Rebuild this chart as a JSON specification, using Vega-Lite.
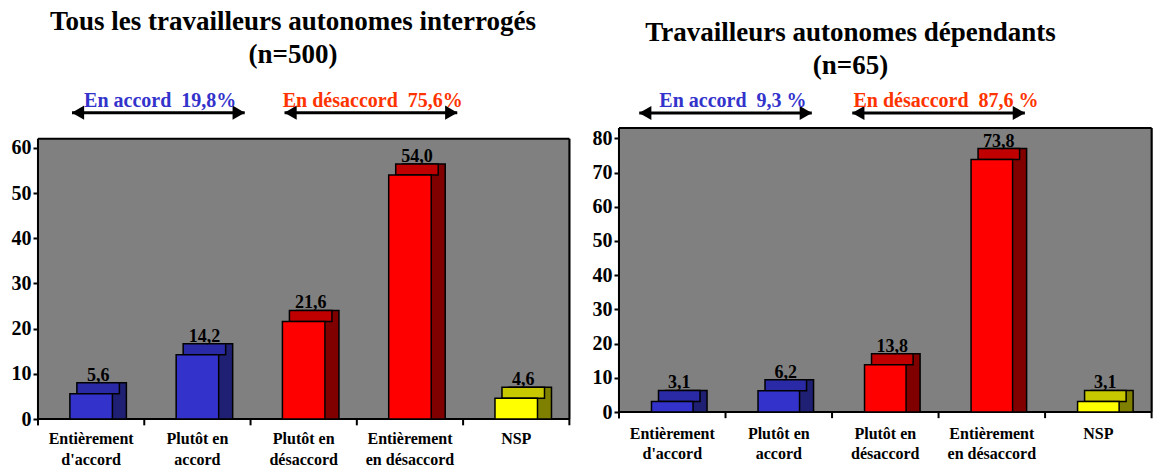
{
  "$schema": "https://vega.github.io/schema/vega-lite/v6.json",
  "background": "white",
  "padding": {"left": 11, "top": 8, "right": 0, "bottom": 0},
  "spacing": 12,
  "config": {
    "view": {"stroke": null},
    "font": "Liberation Serif",
    "title": {"font": "Liberation Serif", "fontSize": 27, "fontWeight": "bold", "color": "black", "lineHeight": 33, "anchor": "middle"},
    "axis": {"labelFont": "Liberation Serif", "labelFontWeight": "bold", "labelColor": "black", "grid": false, "tickColor": "black", "tickWidth": 2, "domain": false},
    "axisY": {"labelFontSize": 20, "tickSize": 5, "labelPadding": 2},
    "axisX": {"labelFontSize": 16, "labelAngle": 0, "ticks": false}
  },
  "datasets": {
    "all": [
      {"cat": "Entièrement d'accord", "value": 5.6, "label": "5,6", "grp": "accord"},
      {"cat": "Plutôt en accord", "value": 14.2, "label": "14,2", "grp": "accord"},
      {"cat": "Plutôt en désaccord", "value": 21.6, "label": "21,6", "grp": "desaccord"},
      {"cat": "Entièrement en désaccord", "value": 54.0, "label": "54,0", "grp": "desaccord"},
      {"cat": "NSP", "value": 4.6, "label": "4,6", "grp": "nsp"}
    ],
    "dep": [
      {"cat": "Entièrement d'accord", "value": 3.1, "label": "3,1", "grp": "accord"},
      {"cat": "Plutôt en accord", "value": 6.2, "label": "6,2", "grp": "accord"},
      {"cat": "Plutôt en désaccord", "value": 13.8, "label": "13,8", "grp": "desaccord"},
      {"cat": "Entièrement en désaccord", "value": 73.8, "label": "73,8", "grp": "desaccord"},
      {"cat": "NSP", "value": 3.1, "label": "3,1", "grp": "nsp"}
    ],
    "annAll": [
      {"label": "En accord\u00a0 19,8%", "from": "Entièrement d'accord", "to": "Plutôt en accord", "grp": "accord"},
      {"label": "En désaccord\u00a0 75,6%", "from": "Plutôt en désaccord", "to": "Entièrement en désaccord", "grp": "desaccord"}
    ],
    "annDep": [
      {"label": "En accord\u00a0 9,3 %", "from": "Entièrement d'accord", "to": "Plutôt en accord", "grp": "accord"},
      {"label": "En désaccord\u00a0 87,6 %", "from": "Plutôt en désaccord", "to": "Entièrement en désaccord", "grp": "desaccord"}
    ]
  },
  "hconcat": [
    {
      "width": 542,
      "height": 333,
      "title": {"text": ["Tous les travailleurs autonomes interrogés", "(n=500)"], "offset": 17, "dx": -16},
      "resolve": {"scale": {"color": "independent"}},
      "layer": [
        {
          "data": {"name": "all"},
          "mark": {"type": "bar", "width": {"band": 1.02}, "fill": "#808080", "stroke": null},
          "encoding": {
            "x": {"field": "cat", "type": "nominal", "scale": {"domain": ["Entièrement d'accord", "Plutôt en accord", "Plutôt en désaccord", "Entièrement en désaccord", "NSP"], "paddingInner": 0, "paddingOuter": 0.05, "align": 0},
              "axis": {"title": null, "labelPadding": 11, "labelLineHeight": 21,
                "labelExpr": "indexof(datum.value, 'Entièrement') == 0 ? ['Entièrement', substring(datum.value, 12)] : (indexof(datum.value, 'Plutôt en') == 0 ? ['Plutôt en', substring(datum.value, 10)] : datum.value)"}},
            "y": {"datum": 0, "type": "quantitative", "scale": {"domain": [0, 73.7], "nice": false}, "axis": {"values": [0, 10, 20, 30, 40, 50, 60], "title": null}},
            "y2": {"datum": 62}
          }
        },
        {
          "data": {"name": "all"},
          "mark": {"type": "rule", "strokeWidth": 2, "color": "black"},
          "encoding": {
            "x": {"field": "cat", "type": "nominal", "bandPosition": 0, "axis": {"title": null}},
            "y": {"datum": 0, "type": "quantitative", "axis": {"title": null}},
            "y2": {"datum": -1.4}
          }
        },
        {
          "data": {"values": [{"c": "Entièrement d'accord"}]},
          "mark": {"type": "rule", "strokeWidth": 2, "color": "black"},
          "encoding": {
            "x": {"field": "c", "type": "nominal", "bandPosition": 0, "axis": {"title": null}},
            "y": {"datum": -1.4, "type": "quantitative", "axis": {"title": null}},
            "y2": {"datum": 62}
          }
        },
        {
          "data": {"values": [{"c": "NSP"}]},
          "mark": {"type": "rule", "strokeWidth": 2, "color": "black"},
          "encoding": {
            "x": {"field": "c", "type": "nominal", "bandPosition": 1, "axis": {"title": null}},
            "y": {"datum": -1.4, "type": "quantitative", "axis": {"title": null}},
            "y2": {"datum": 62}
          }
        },
        {
          "data": {"values": [{"a": "Entièrement d'accord", "b": "NSP", "v": 0}, {"a": "Entièrement d'accord", "b": "NSP", "v": 62}]},
          "mark": {"type": "rule", "strokeWidth": 2, "color": "black"},
          "encoding": {
            "x": {"field": "a", "type": "nominal", "bandPosition": 0, "axis": {"title": null}},
            "x2": {"field": "b", "bandPosition": 1},
            "y": {"field": "v", "type": "quantitative", "axis": {"title": null}}
          }
        },
        {
          "data": {"name": "all"},
          "mark": {"type": "bar", "width": {"band": 0.4}, "xOffset": 14, "yOffset": -11, "y2Offset": 0, "stroke": "black", "strokeWidth": 1.5},
          "encoding": {
            "x": {"field": "cat", "type": "nominal", "axis": {"title": null}},
            "y": {"field": "value", "type": "quantitative", "axis": {"title": null}},
            "y2": {"datum": 0},
            "color": {"field": "grp", "type": "nominal", "scale": {"domain": ["accord", "desaccord", "nsp"], "range": ["#1f1f73", "#800000", "#808000"]}, "legend": null}
          }
        },
        {
          "data": {"name": "all"},
          "mark": {"type": "bar", "width": {"band": 0.4}, "xOffset": 7, "yOffset": -11, "y2Offset": 0, "stroke": "black", "strokeWidth": 1.5},
          "encoding": {
            "x": {"field": "cat", "type": "nominal", "axis": {"title": null}},
            "y": {"field": "value", "type": "quantitative", "axis": {"title": null}},
            "y2": {"field": "value"},
            "color": {"field": "grp", "type": "nominal", "scale": {"domain": ["accord", "desaccord", "nsp"], "range": ["#2a2aa6", "#c00000", "#c8c800"]}, "legend": null}
          }
        },
        {
          "data": {"name": "all"},
          "mark": {"type": "bar", "width": {"band": 0.4}, "stroke": "black", "strokeWidth": 1.5},
          "encoding": {
            "x": {"field": "cat", "type": "nominal", "axis": {"title": null}},
            "y": {"field": "value", "type": "quantitative", "axis": {"title": null}},
            "color": {"field": "grp", "type": "nominal", "scale": {"domain": ["accord", "desaccord", "nsp"], "range": ["#3333cc", "#ff0000", "#ffff00"]}, "legend": null}
          }
        },
        {
          "data": {"name": "all"},
          "mark": {"type": "text", "xOffset": 7, "dy": -9, "baseline": "bottom", "font": "Liberation Serif", "fontWeight": "bold", "fontSize": 18, "color": "black"},
          "encoding": {
            "x": {"field": "cat", "type": "nominal", "axis": {"title": null}},
            "y": {"field": "value", "type": "quantitative", "axis": {"title": null}},
            "text": {"field": "label"}
          }
        },
        {
          "data": {"name": "annAll"},
          "mark": {"type": "rule", "strokeWidth": 3, "color": "black"},
          "encoding": {
            "x": {"field": "from", "type": "nominal", "bandPosition": 0.32, "axis": {"title": null}},
            "x2": {"field": "to", "bandPosition": 0.945},
            "y": {"datum": 67.8, "type": "quantitative", "axis": {"title": null}}
          }
        },
        {
          "data": {"name": "annAll"},
          "mark": {"type": "point", "shape": "triangle-left", "filled": true, "size": 200, "color": "black", "opacity": 1, "xOffset": 6},
          "encoding": {
            "x": {"field": "from", "type": "nominal", "bandPosition": 0.32, "axis": {"title": null}},
            "y": {"datum": 67.8, "type": "quantitative", "axis": {"title": null}}
          }
        },
        {
          "data": {"name": "annAll"},
          "mark": {"type": "point", "shape": "triangle-right", "filled": true, "size": 200, "color": "black", "opacity": 1, "xOffset": -6},
          "encoding": {
            "x": {"field": "to", "type": "nominal", "bandPosition": 0.945, "axis": {"title": null}},
            "y": {"datum": 67.8, "type": "quantitative", "axis": {"title": null}}
          }
        },
        {
          "data": {"name": "annAll"},
          "mark": {"type": "text", "baseline": "middle", "align": "center", "font": "Liberation Serif", "fontWeight": "bold", "fontSize": 20},
          "encoding": {
            "x": {"field": "to", "type": "nominal", "bandPosition": 0.15, "axis": {"title": null}},
            "y": {"datum": 70.4, "type": "quantitative", "axis": {"title": null}},
            "text": {"field": "label"},
            "color": {"field": "grp", "type": "nominal", "scale": {"domain": ["accord", "desaccord"], "range": ["#3333cc", "#ff3300"]}, "legend": null}
          }
        }
      ]
    },
    {
      "width": 539,
      "height": 326,
      "title": {"text": ["Travailleurs autonomes dépendants", "(n=65)"], "offset": 6, "dx": -38},
      "resolve": {"scale": {"color": "independent"}},
      "layer": [
        {
          "data": {"name": "dep"},
          "mark": {"type": "bar", "width": {"band": 1.02}, "fill": "#808080", "stroke": null},
          "encoding": {
            "x": {"field": "cat", "type": "nominal", "scale": {"domain": ["Entièrement d'accord", "Plutôt en accord", "Plutôt en désaccord", "Entièrement en désaccord", "NSP"], "paddingInner": 0, "paddingOuter": 0.03, "align": 0},
              "axis": {"title": null, "labelPadding": 13, "labelLineHeight": 20,
                "labelExpr": "indexof(datum.value, 'Entièrement') == 0 ? ['Entièrement', substring(datum.value, 12)] : (indexof(datum.value, 'Plutôt en') == 0 ? ['Plutôt en', substring(datum.value, 10)] : datum.value)"}},
            "y": {"datum": 0, "type": "quantitative", "scale": {"domain": [0, 95.3], "nice": false}, "axis": {"values": [0, 10, 20, 30, 40, 50, 60, 70, 80], "title": null}},
            "y2": {"datum": 83}
          }
        },
        {
          "data": {"name": "dep"},
          "mark": {"type": "rule", "strokeWidth": 2, "color": "black"},
          "encoding": {
            "x": {"field": "cat", "type": "nominal", "bandPosition": 0, "axis": {"title": null}},
            "y": {"datum": 0, "type": "quantitative", "axis": {"title": null}},
            "y2": {"datum": -1.8}
          }
        },
        {
          "data": {"values": [{"c": "Entièrement d'accord"}]},
          "mark": {"type": "rule", "strokeWidth": 2, "color": "black"},
          "encoding": {
            "x": {"field": "c", "type": "nominal", "bandPosition": 0, "axis": {"title": null}},
            "y": {"datum": -1.8, "type": "quantitative", "axis": {"title": null}},
            "y2": {"datum": 83}
          }
        },
        {
          "data": {"values": [{"c": "NSP"}]},
          "mark": {"type": "rule", "strokeWidth": 2, "color": "black"},
          "encoding": {
            "x": {"field": "c", "type": "nominal", "bandPosition": 1, "axis": {"title": null}},
            "y": {"datum": -1.8, "type": "quantitative", "axis": {"title": null}},
            "y2": {"datum": 83}
          }
        },
        {
          "data": {"values": [{"a": "Entièrement d'accord", "b": "NSP", "v": 0}, {"a": "Entièrement d'accord", "b": "NSP", "v": 83}]},
          "mark": {"type": "rule", "strokeWidth": 2, "color": "black"},
          "encoding": {
            "x": {"field": "a", "type": "nominal", "bandPosition": 0, "axis": {"title": null}},
            "x2": {"field": "b", "bandPosition": 1},
            "y": {"field": "v", "type": "quantitative", "axis": {"title": null}}
          }
        },
        {
          "data": {"name": "dep"},
          "mark": {"type": "bar", "width": {"band": 0.39}, "xOffset": 14, "yOffset": -11, "y2Offset": 0, "stroke": "black", "strokeWidth": 1.5},
          "encoding": {
            "x": {"field": "cat", "type": "nominal", "axis": {"title": null}},
            "y": {"field": "value", "type": "quantitative", "axis": {"title": null}},
            "y2": {"datum": 0},
            "color": {"field": "grp", "type": "nominal", "scale": {"domain": ["accord", "desaccord", "nsp"], "range": ["#1f1f73", "#800000", "#808000"]}, "legend": null}
          }
        },
        {
          "data": {"name": "dep"},
          "mark": {"type": "bar", "width": {"band": 0.39}, "xOffset": 7, "yOffset": -11, "y2Offset": 0, "stroke": "black", "strokeWidth": 1.5},
          "encoding": {
            "x": {"field": "cat", "type": "nominal", "axis": {"title": null}},
            "y": {"field": "value", "type": "quantitative", "axis": {"title": null}},
            "y2": {"field": "value"},
            "color": {"field": "grp", "type": "nominal", "scale": {"domain": ["accord", "desaccord", "nsp"], "range": ["#2a2aa6", "#c00000", "#c8c800"]}, "legend": null}
          }
        },
        {
          "data": {"name": "dep"},
          "mark": {"type": "bar", "width": {"band": 0.39}, "stroke": "black", "strokeWidth": 1.5},
          "encoding": {
            "x": {"field": "cat", "type": "nominal", "axis": {"title": null}},
            "y": {"field": "value", "type": "quantitative", "axis": {"title": null}},
            "color": {"field": "grp", "type": "nominal", "scale": {"domain": ["accord", "desaccord", "nsp"], "range": ["#3333cc", "#ff0000", "#ffff00"]}, "legend": null}
          }
        },
        {
          "data": {"name": "dep"},
          "mark": {"type": "text", "xOffset": 7, "dy": -9, "baseline": "bottom", "font": "Liberation Serif", "fontWeight": "bold", "fontSize": 18, "color": "black"},
          "encoding": {
            "x": {"field": "cat", "type": "nominal", "axis": {"title": null}},
            "y": {"field": "value", "type": "quantitative", "axis": {"title": null}},
            "text": {"field": "label"}
          }
        },
        {
          "data": {"name": "annDep"},
          "mark": {"type": "rule", "strokeWidth": 3, "color": "black"},
          "encoding": {
            "x": {"field": "from", "type": "nominal", "bandPosition": 0.19, "axis": {"title": null}},
            "x2": {"field": "to", "bandPosition": 0.81},
            "y": {"datum": 87.4, "type": "quantitative", "axis": {"title": null}}
          }
        },
        {
          "data": {"name": "annDep"},
          "mark": {"type": "point", "shape": "triangle-left", "filled": true, "size": 200, "color": "black", "opacity": 1, "xOffset": 6},
          "encoding": {
            "x": {"field": "from", "type": "nominal", "bandPosition": 0.19, "axis": {"title": null}},
            "y": {"datum": 87.4, "type": "quantitative", "axis": {"title": null}}
          }
        },
        {
          "data": {"name": "annDep"},
          "mark": {"type": "point", "shape": "triangle-right", "filled": true, "size": 200, "color": "black", "opacity": 1, "xOffset": -6},
          "encoding": {
            "x": {"field": "to", "type": "nominal", "bandPosition": 0.81, "axis": {"title": null}},
            "y": {"datum": 87.4, "type": "quantitative", "axis": {"title": null}}
          }
        },
        {
          "data": {"name": "annDep"},
          "mark": {"type": "text", "baseline": "middle", "align": "center", "font": "Liberation Serif", "fontWeight": "bold", "fontSize": 20},
          "encoding": {
            "x": {"field": "to", "type": "nominal", "bandPosition": 0.07, "axis": {"title": null}},
            "y": {"datum": 90.9, "type": "quantitative", "axis": {"title": null}},
            "text": {"field": "label"},
            "color": {"field": "grp", "type": "nominal", "scale": {"domain": ["accord", "desaccord"], "range": ["#3333cc", "#ff3300"]}, "legend": null}
          }
        }
      ]
    }
  ]
}
